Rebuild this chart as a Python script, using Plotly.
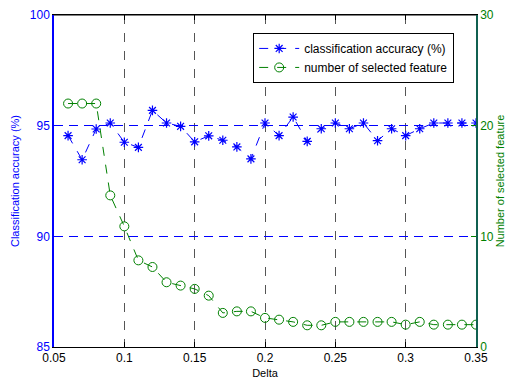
import plotly.graph_objects as go

delta = [round(0.06 + 0.01 * i, 2) for i in range(30)]
accuracy = [94.55, 93.46, 94.85, 95.12, 94.25, 94.02, 95.69, 95.12, 94.97, 94.27,
            94.54, 94.34, 94.04, 93.50, 95.12, 94.55, 95.39, 94.29, 94.86, 95.12,
            94.86, 95.12, 94.32, 94.86, 94.55, 94.86, 95.12, 95.12, 95.12, 95.12]
features = [22, 22, 22, 13.7, 10.9, 7.83, 7.23, 5.85, 5.55, 5.25,
            4.64, 3.08, 3.22, 3.22, 2.63, 2.47, 2.27, 1.96, 1.96, 2.27,
            2.27, 2.27, 2.27, 2.27, 2.02, 2.27, 2.02, 2.02, 2.02, 2.02]

font = "Liberation Sans, Arial, sans-serif"
blue = "#0000ff"
green = "#008000"

fig = go.Figure()
fig.add_trace(go.Scatter(
    x=delta, y=accuracy, name="classification accuracy (%)",
    mode="lines+markers",
    line=dict(color=blue, width=1, dash="dash"),
    marker=dict(symbol="asterisk-open", size=8, color=blue, line=dict(color=blue, width=1.2)),
))
fig.add_trace(go.Scatter(
    x=delta, y=features, name="number of selected feature", yaxis="y2",
    mode="lines+markers",
    line=dict(color=green, width=1, dash="dash"),
    marker=dict(symbol="circle-open", size=9, color=green, line=dict(color=green, width=1)),
))

# page body adds an 8px offset, so the figure is sized to fit inside it
fig.update_layout(
    template="none",
    width=505, height=372,
    margin=dict(l=46, r=37, t=7, b=33, autoexpand=False),
    paper_bgcolor="white", plot_bgcolor="white",
    font=dict(family=font, size=12, color="black"),
    showlegend=True,
    legend=dict(x=0.472, y=0.946, xanchor="left", yanchor="top",
                bgcolor="white", bordercolor="black", borderwidth=1,
                font=dict(size=12, color="black"), tracegroupgap=0, itemwidth=40),
    xaxis=dict(range=[0.05, 0.35], dtick=0.05, tick0=0.05, automargin=False,
               ticks="inside", ticklen=5, tickcolor="black",
               showline=True, linecolor="black", linewidth=1, mirror="ticks",
               showgrid=True, gridcolor="#555555", griddash="dash", gridwidth=1,
               zeroline=False, tickfont=dict(color="black", size=12),
               title=dict(text="Delta", font=dict(size=11, color="black"), standoff=4)),
    yaxis=dict(range=[85, 100], dtick=5, ticks="inside", ticklen=5, tickcolor=blue,
               automargin=False,
               showline=True, linecolor=blue, linewidth=1.5,
               showgrid=True, gridcolor=blue, griddash="9px,6px", gridwidth=1,
               zeroline=False, tickfont=dict(color=blue, size=12),
               title=dict(text="Classification accuracy (%)", font=dict(size=11, color=blue), standoff=8)),
    yaxis2=dict(range=[0, 30], dtick=10, overlaying="y", side="right",
                automargin=False,
                ticks="inside", ticklen=5, tickcolor=green,
                showline=True, linecolor="#106050", linewidth=1.5,
                showgrid=False, gridcolor="rgba(0,0,0,0)", zeroline=False,
                tickfont=dict(color=green, size=12),
                title=dict(text="Number of selected feature", font=dict(size=11, color=green), standoff=3)),
)
fig.add_shape(type="line", xref="paper", yref="paper", x0=0, x1=1, y0=1, y1=1,
              line=dict(color="black", width=1))

fig.write_html("out.html")
